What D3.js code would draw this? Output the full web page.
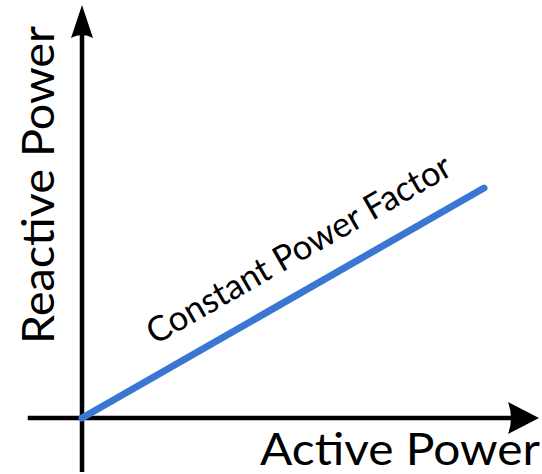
<!DOCTYPE html>
<html>
<head>
<meta charset="utf-8">
<script src="https://cdn.jsdelivr.net/npm/d3@7"></script>
<style>
  html, body { margin: 0; padding: 0; background: #fff; }
  svg { display: block; }
</style>
</head>
<body>
<svg id="chart" width="542" height="474"></svg>
<script>
// ---- data ----
const activePower = [0, 10];
const reactivePower = [0, 5.72];
const lineLabel = "Constant Power Factor";
const xTitle = "Active Power";
const yTitle = "Reactive Power";

// ---- layout ----
const svg = d3.select("#chart");
const x = d3.scaleLinear().domain([0, 10]).range([82, 484]);
const y = d3.scaleLinear().domain([0, 10]).range([418, 16]);

const font = "Lato, 'Open Sans', sans-serif";

// axes lines
const xAxisStart = x(-1.35), xAxisTip = 539;
const yAxisBottom = 472, yAxisTip = 5;
svg.append("line")
  .attr("x1", xAxisStart).attr("y1", y(0))
  .attr("x2", xAxisTip - 26).attr("y2", y(0))
  .attr("stroke", "#000").attr("stroke-width", 4.5);
svg.append("line")
  .attr("x1", x(0)).attr("y1", yAxisBottom)
  .attr("x2", x(0)).attr("y2", yAxisTip + 28)
  .attr("stroke", "#000").attr("stroke-width", 4.5);

// arrowheads
const ax = x(0), ay = y(0);
svg.append("path")
  .attr("d", `M${xAxisTip},${ay} L${xAxisTip - 31},${ay - 16} Q${xAxisTip - 25},${ay} ${xAxisTip - 31},${ay + 16} Z`)
  .attr("fill", "#000");
svg.append("path")
  .attr("d", `M${ax},${yAxisTip} L${ax - 11},${yAxisTip + 33} Q${ax},${yAxisTip + 27} ${ax + 11},${yAxisTip + 33} Z`)
  .attr("fill", "#000");

// data line
const pts = activePower.map((p, i) => [p, reactivePower[i]]);
svg.append("path")
  .datum(pts)
  .attr("d", d3.line().x(d => x(d[0])).y(d => y(d[1])))
  .attr("fill", "none")
  .attr("stroke", "#3a77d2")
  .attr("stroke-width", 7)
  .attr("stroke-linecap", "round");

// line label
const p0 = pts[0], p1 = pts[pts.length - 1];
const dx = x(p1[0]) - x(p0[0]), dy = y(p1[1]) - y(p0[1]);
const len = Math.hypot(dx, dy);
const ang = Math.atan2(dy, dx) * 180 / Math.PI;
const ux = dx / len, uy = dy / len;
const along = 272, off = 27;
const lx = x(p0[0]) + ux * along + uy * off;
const ly = y(p0[1]) + uy * along - ux * off;
svg.append("text")
  .attr("transform", `translate(${lx},${ly}) rotate(${ang})`)
  .attr("text-anchor", "middle")
  .attr("font-family", font)
  .attr("font-size", 35)
  .attr("textLength", 345)
  .attr("lengthAdjust", "spacingAndGlyphs")
  .attr("fill", "#000")
  .text(lineLabel);

// axis titles
svg.append("text")
  .attr("x", 400).attr("y", 465)
  .attr("text-anchor", "middle")
  .attr("font-family", font)
  .attr("font-size", 44)
  .attr("textLength", 280)
  .attr("lengthAdjust", "spacingAndGlyphs")
  .attr("fill", "#000")
  .text(xTitle);

svg.append("text")
  .attr("transform", "translate(54,185) rotate(-90)")
  .attr("text-anchor", "middle")
  .attr("font-family", font)
  .attr("font-size", 45)
  .attr("textLength", 318)
  .attr("lengthAdjust", "spacingAndGlyphs")
  .attr("fill", "#000")
  .text(yTitle);
</script>
</body>
</html>
